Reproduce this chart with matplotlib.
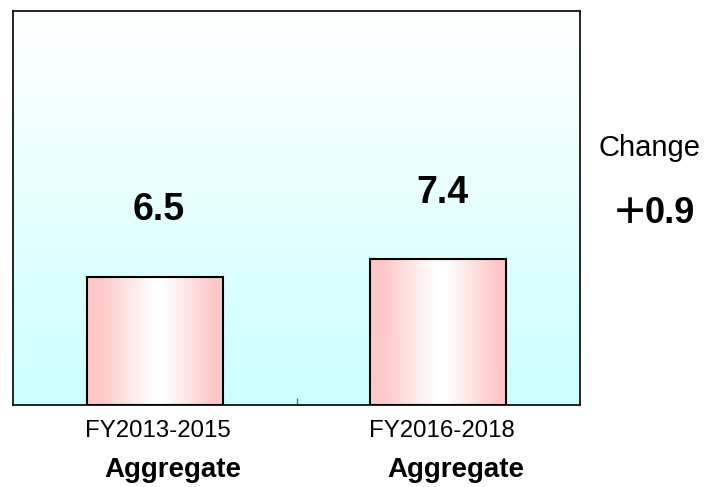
import numpy as np
import matplotlib.pyplot as plt
from matplotlib.colors import LinearSegmentedColormap
from matplotlib.patches import Rectangle

periods = ['FY2013-2015', 'FY2016-2018']
period_note = ['Aggregate', 'Aggregate']
values = [6.5, 7.4]

plt.rcParams['font.family'] = ['Liberation Sans', 'DejaVu Sans']

fig = plt.figure(figsize=(7.12, 4.87), dpi=100, facecolor='white')
ax = fig.add_axes([0.0183, 0.1684, 0.7963, 0.809])

x = np.arange(len(values))

# plot area: white at the top fading to pale cyan at the bottom
bg = LinearSegmentedColormap.from_list('bg', ['#ccffff', '#ffffff'])
ax.imshow(np.linspace(0, 1, 256).reshape(-1, 1), cmap=bg, aspect='auto',
          origin='lower', extent=[0, 1, 0, 1], transform=ax.transAxes, zorder=0)

# bars: pink at the edges, white in the middle
bar_cmap = LinearSegmentedColormap.from_list(
    'bar', [(0, '#ffc8c8'), (0.1, '#ffc8c8'), (0.48, '#ffffff'), (0.56, '#ffffff'),
            (0.92, '#ffc8c8'), (1, '#ffc8c8')])
width = 0.48
bars = ax.bar(x, values, width=width, color='none', edgecolor='black', linewidth=1.5, zorder=3)
for rect in bars:
    x0, w, h = rect.get_x(), rect.get_width(), rect.get_height()
    im = ax.imshow(np.linspace(0, 1, 256).reshape(1, -1), cmap=bar_cmap, aspect='auto',
                   extent=[x0, x0 + w, 0, h], zorder=2)
    im.set_clip_path(Rectangle((x0, 0), w, h, transform=ax.transData))

# value labels sit a fixed distance above each bar
for xi, v in zip(x, values):
    ax.annotate(f'{v:.1f}', xy=(xi, v), xytext=(3, 48), textcoords='offset points',
                ha='center', va='center', fontsize=27, fontweight='bold')

ax.set_xlim(-0.5, 1.5)
ax.set_ylim(0, 20)

# single tick between the two periods
ax.set_xticks([0.5])
ax.set_xticklabels([''])
ax.tick_params(axis='x', direction='in', length=5, width=1, color='#607070')
ax.set_yticks([])

for xi, lab, note in zip(x, periods, period_note):
    ax.annotate(lab, xy=(xi, 0), xycoords=('data', 'axes fraction'),
                xytext=(2.5, -18.5), textcoords='offset points',
                ha='center', va='center', fontsize=17.3)
    ax.annotate(note, xy=(xi, 0), xycoords=('data', 'axes fraction'),
                xytext=(13, -46.5), textcoords='offset points',
                ha='center', va='center', fontsize=20, fontweight='bold')

for s in ax.spines.values():
    s.set_linewidth(1.2)

change = values[1] - values[0]
fig.text(0.912, 0.697, 'Change', ha='center', va='center', fontsize=21)
fig.text(0.8596, 0.562, '＋', ha='left', va='center', fontsize=26, fontweight='bold',
         family=['Noto Sans CJK JP', 'DejaVu Sans'])
fig.text(0.906, 0.561, f'{change:.1f}', ha='left', va='center',
         fontsize=26, fontweight='bold')

fig.savefig('out.png', dpi=100, facecolor='white')
